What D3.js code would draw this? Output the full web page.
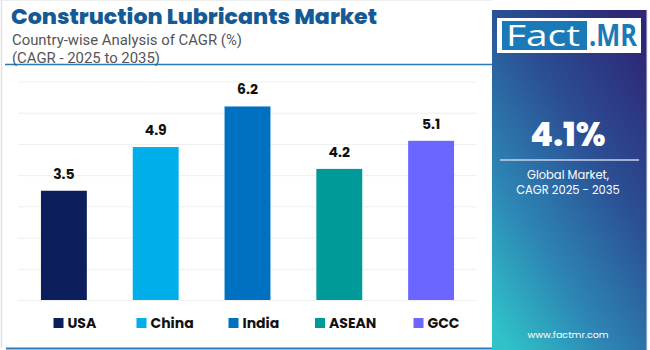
<!DOCTYPE html>
<html><head><meta charset="utf-8">
<script src="https://cdn.jsdelivr.net/npm/d3@7"></script>
<style>body{margin:0;background:#fff;font-family:Poppins,Inter,Roboto,sans-serif}</style>
</head><body>
<svg id="c" width="650" height="350"></svg>
<script>
const categories = ["USA","China","India","ASEAN","GCC"];
const values = [3.5,4.9,6.2,4.2,5.1];
const colors = ["#0c1f5c","#00aee9","#0070c0","#009a99","#6a66ff"];
const yTicks = [0,1,2,3,4,5,6,7];

const svg = d3.select("#c");
const defs = svg.append("defs");
const g = defs.append("linearGradient").attr("id","pg").attr("x1","0.8").attr("y1","0").attr("x2","0.1").attr("y2","1");
g.append("stop").attr("offset","0").attr("stop-color","#2e2877");
g.append("stop").attr("offset","0.35").attr("stop-color","#2b4f94");
g.append("stop").attr("offset","0.7").attr("stop-color","#2d86b4");
g.append("stop").attr("offset","1").attr("stop-color","#2fc3c9");

// frame
svg.append("line").attr("x1",1.5).attr("x2",1.5).attr("y1",0).attr("y2",348).attr("stroke","#e2e2e2").attr("stroke-width",1.5);
svg.append("line").attr("x1",0).attr("x2",492).attr("y1",0.5).attr("y2",0.5).attr("stroke","#eeeeee");
svg.append("line").attr("x1",6).attr("x2",493).attr("y1",348.5).attr("y2",348.5).attr("stroke","#2a7ab8").attr("stroke-width",2);
svg.append("line").attr("x1",5).attr("x2",493).attr("y1",64.5).attr("y2",64.5).attr("stroke","#2a7ab8").attr("stroke-width",1.5);

// titles
svg.append("text").attr("x",11).attr("y",24).text("Construction Lubricants Market")
  .attr("font-size",21).attr("font-weight",800).attr("fill","#155a94").attr("textLength",366).attr("lengthAdjust","spacingAndGlyphs");
svg.append("text").attr("x",12).attr("y",45).text("Country-wise Analysis of CAGR (%)")
  .attr("font-size",14.5).attr("font-family","Roboto,sans-serif").attr("fill","#555").attr("textLength",230).attr("lengthAdjust","spacingAndGlyphs");
svg.append("text").attr("x",12).attr("y",63).text("(CAGR - 2025 to 2035)")
  .attr("font-size",14.5).attr("font-family","Roboto,sans-serif").attr("fill","#555").attr("textLength",148).attr("lengthAdjust","spacingAndGlyphs");

// chart
const x = d3.scaleBand().domain(categories).range([18,477]).paddingInner(0.5).paddingOuter(0.25);
const y = d3.scaleLinear().domain([0,7]).range([300,81.5]);

const grid = svg.append("g").attr("transform","translate(18,0)")
  .call(d3.axisLeft(y).tickValues(yTicks).tickSize(-459).tickFormat(""));
grid.select(".domain").remove();
grid.selectAll(".tick line").attr("stroke","#efefef").attr("stroke-width",1);

svg.selectAll("rect.bar").data(values).join("rect").attr("class","bar")
  .attr("x",(d,i)=>x(categories[i])).attr("width",x.bandwidth())
  .attr("y",d=>y(d)).attr("height",d=>y(0)-y(d))
  .attr("fill",(d,i)=>colors[i]);

svg.selectAll("text.val").data(values).join("text").attr("class","val")
  .attr("x",(d,i)=>x(categories[i])+x.bandwidth()/2).attr("y",d=>y(d)-12)
  .attr("text-anchor","middle").attr("font-size",14).attr("font-weight",700).attr("fill","#111")
  .text(d=>d.toFixed(1));

// legend
const legX = [53.5,136.5,228.5,315,413.5];
const leg = svg.selectAll("g.leg").data(categories).join("g").attr("class","leg")
  .attr("transform",(d,i)=>`translate(${legX[i]},323)`);
leg.append("rect").attr("x",0).attr("y",-5).attr("width",10).attr("height",10).attr("fill",(d,i)=>colors[i]);
leg.append("text").attr("x",14).attr("y",5).attr("font-size",14).attr("font-weight",700).attr("fill","#111").text(d=>d);

// right panel
svg.append("rect").attr("x",492).attr("y",10).attr("width",155).attr("height",340).attr("fill","url(#pg)");
svg.append("line").attr("x1",647).attr("x2",647).attr("y1",10).attr("y2",350).attr("stroke","#d8e4ee").attr("stroke-width",1);
svg.append("rect").attr("x",497).attr("y",18).attr("width",144).attr("height",35).attr("fill","#fff");
svg.append("rect").attr("x",502).attr("y",21).attr("width",85).attr("height",29).attr("fill","#1a7ab8");
svg.append("text").attr("x",506).attr("y",46).text("Fact").attr("font-size",30).attr("fill","#fff")
  .attr("font-family","'Open Sans',sans-serif").attr("textLength",74).attr("lengthAdjust","spacingAndGlyphs");
svg.append("text").attr("x",589).attr("y",46).text(".MR").attr("font-size",30).attr("font-weight",700).attr("fill","#1a7ab8")
  .attr("font-family","'Open Sans',sans-serif").attr("textLength",48).attr("lengthAdjust","spacingAndGlyphs");

svg.append("text").attr("x",568).attr("y",146).attr("text-anchor","middle").text("4.1%")
  .attr("font-size",33).attr("font-weight",800).attr("fill","#fff");
svg.append("line").attr("x1",500).attr("x2",639).attr("y1",160).attr("y2",160).attr("stroke","#c9d3ea").attr("stroke-width",1.5);
svg.append("text").attr("x",568).attr("y",179).attr("text-anchor","middle").text("Global Market,")
  .attr("font-size",11.5).attr("fill","#fff");
svg.append("text").attr("x",568).attr("y",194).attr("text-anchor","middle").text("CAGR 2025 - 2035")
  .attr("font-size",11.5).attr("fill","#fff");
svg.append("text").attr("x",568).attr("y",338).attr("text-anchor","middle").text("www.factmr.com")
  .attr("font-size",9.5).attr("fill","#fff");
</script>
</body></html>
